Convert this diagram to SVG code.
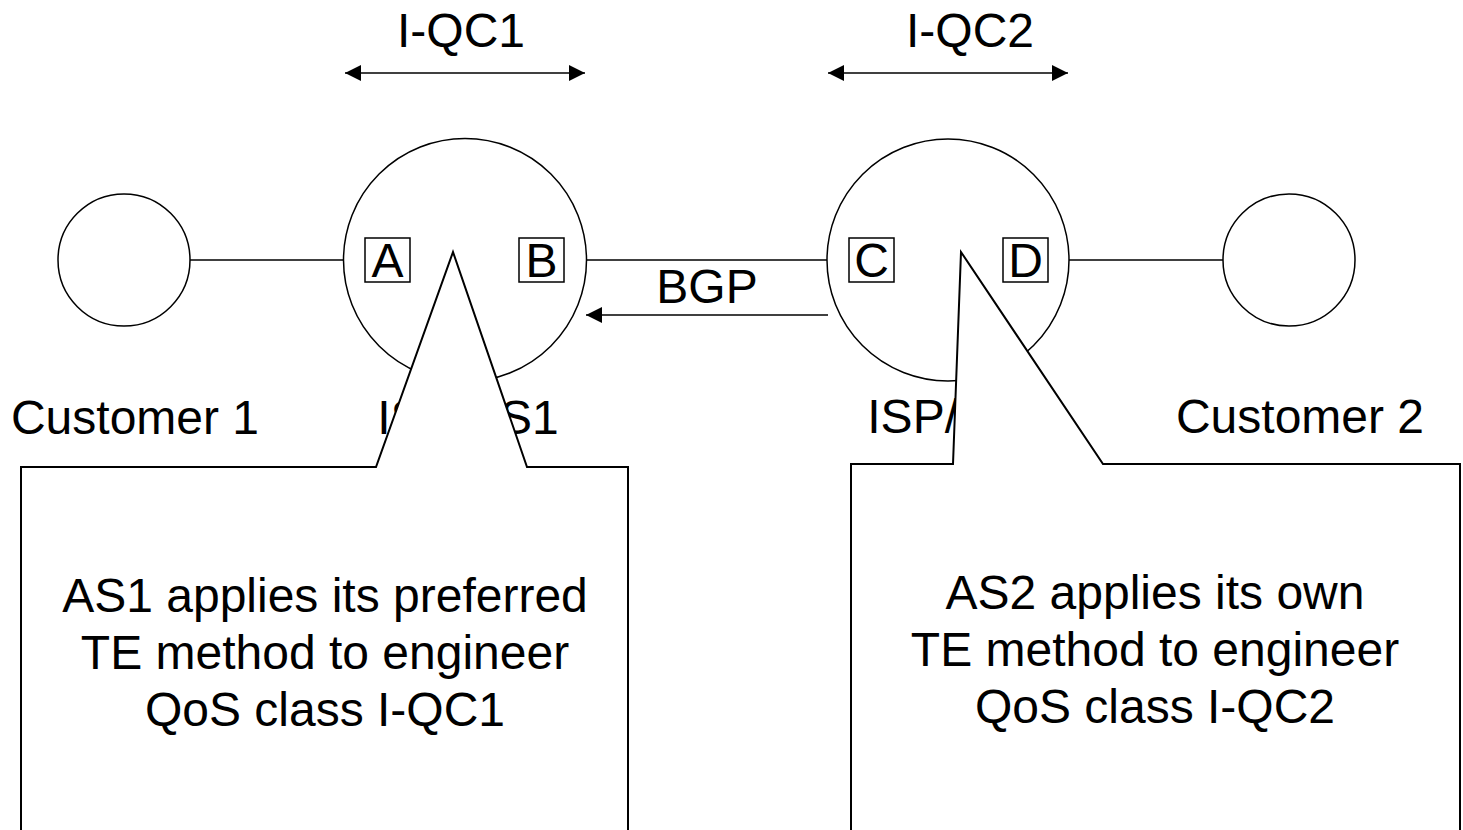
<svg xmlns="http://www.w3.org/2000/svg" width="1463" height="830" viewBox="0 0 1463 830">
<style>
  .shape { fill: #fff; stroke: #000; stroke-width: 1.5; }
  .line { fill: none; stroke: #000; stroke-width: 1.5; }
  .callout { fill: #fff; stroke: #000; stroke-width: 2; stroke-linejoin: miter; }
  text { font-family: "Liberation Sans", Arial, sans-serif; font-size: 48px; fill: #000; }
  .mid { text-anchor: middle; }
</style>
<defs>
  <marker id="ah" viewBox="0 0 16 16" refX="16" refY="8" markerWidth="16" markerHeight="16" markerUnits="userSpaceOnUse" orient="auto-start-reverse">
    <path d="M0,0 L16,8 L0,16 Z" fill="#000"/>
  </marker>
</defs>
<rect width="1463" height="830" fill="#fff"/>

<g id="connectors">
  <line class="line" x1="190" y1="260" x2="365" y2="260"/>
  <line class="line" x1="564" y1="260" x2="849" y2="260"/>
  <line class="line" x1="1048" y1="260" x2="1223" y2="260"/>
  <line class="line" x1="345" y1="73" x2="585" y2="73" marker-start="url(#ah)" marker-end="url(#ah)"/>
  <line class="line" x1="828" y1="73" x2="1068" y2="73" marker-start="url(#ah)" marker-end="url(#ah)"/>
  <line class="line" x1="828" y1="315" x2="586" y2="315" marker-end="url(#ah)"/>
</g>

<g id="customer1">
  <circle class="shape" cx="124" cy="260" r="66"/>
  <text class="mid" x="135" y="434">Customer 1</text>
</g>

<g id="as1">
  <circle class="shape" cx="465" cy="260" r="121.5"/>
  <text class="mid" x="468" y="434">ISP/AS1</text>
</g>

<g id="as2">
  <circle class="shape" cx="948" cy="260" r="121"/>
  <text class="mid" x="958" y="433">ISP/AS2</text>
</g>

<g id="customer2">
  <circle class="shape" cx="1289" cy="260" r="66"/>
  <text class="mid" x="1300" y="433">Customer 2</text>
</g>

<g id="nodeA">
  <rect class="shape" x="365" y="238" width="45" height="44"/>
  <text class="mid" x="387.5" y="277">A</text>
</g>
<g id="nodeB">
  <rect class="shape" x="519" y="238" width="45" height="44"/>
  <text class="mid" x="541.5" y="277">B</text>
</g>
<g id="nodeC">
  <rect class="shape" x="849" y="238" width="45" height="44"/>
  <text class="mid" x="871.5" y="277">C</text>
</g>
<g id="nodeD">
  <rect class="shape" x="1003" y="238" width="45" height="44"/>
  <text class="mid" x="1025.5" y="277">D</text>
</g>

<g id="labels">
  <text class="mid" x="461" y="47">I-QC1</text>
  <text class="mid" x="970" y="47">I-QC2</text>
  <text class="mid" x="707" y="303">BGP</text>
</g>

<g id="callout1">
  <path class="callout" d="M21,845 L21,467 L376,467 L453,252 L527,467 L628,467 L628,845"/>
  <text class="mid" x="325" y="612">AS1 applies its preferred</text>
  <text class="mid" x="325" y="669">TE method to engineer</text>
  <text class="mid" x="325" y="726">QoS class I-QC1</text>
</g>

<g id="callout2">
  <path class="callout" d="M851,845 L851,464 L953,464 L961,252 L1103,464 L1460,464 L1460,845"/>
  <text class="mid" x="1155" y="609">AS2 applies its own</text>
  <text class="mid" x="1155" y="666">TE method to engineer</text>
  <text class="mid" x="1155" y="723">QoS class I-QC2</text>
</g>
</svg>
